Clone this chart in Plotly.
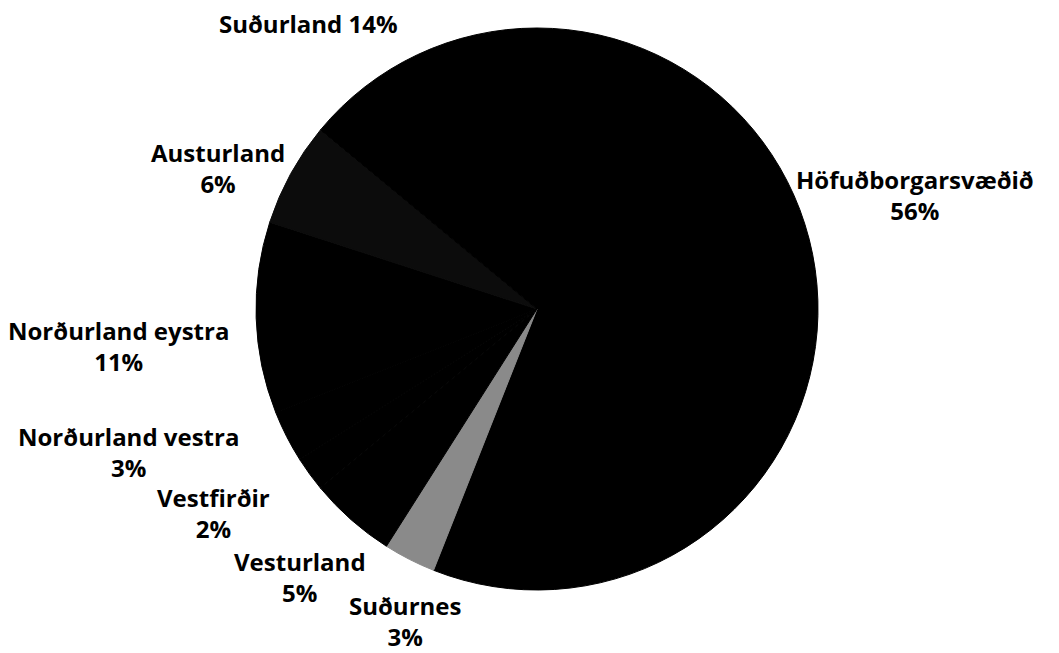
import plotly.graph_objects as go

regions = ["Höfuðborgarsvæðið", "Suðurnes", "Vesturland", "Vestfirðir",
           "Norðurland vestra", "Norðurland eystra", "Austurland", "Suðurland"]
shares = [56, 3, 5, 2, 3, 11, 6, 14]
slice_colors = ["#000000", "#8a8a8a", "#000000", "#000000",
                "#000000", "#000000", "#0c0c0c", "#000000"]

# label anchor positions in page pixels (x, y from top) and whether single-line
label_pos = [(915, 195, False), (405, 621, False), (300, 577, False), (213, 513, False),
             (128, 452, False), (118, 346, False), (218, 168, False), (308, 23, True)]

W, H = 1059, 653
OFF = 8  # page body margin
cx, cy, r = 537 - OFF, 309 - OFF, 281

fig = go.Figure(go.Pie(
    labels=regions, values=shares, sort=False, direction="clockwise", rotation=0,
    marker=dict(colors=slice_colors, line=dict(width=1, color=slice_colors)),
    textinfo="none", hoverinfo="label+percent", showlegend=False,
    domain=dict(x=[(cx - r) / W, (cx + r) / W], y=[1 - (cy + r) / H, 1 - (cy - r) / H]),
))

for name, val, (px, py, single) in zip(regions, shares, label_pos):
    txt = f"{name} {val}%" if single else f"{name}<br>{val}%"
    fig.add_annotation(x=(px - OFF) / W, y=1 - (py - OFF) / H, xref="paper", yref="paper",
                       text=txt, showarrow=False, xanchor="center", yanchor="middle",
                       borderpad=0,
                       font=dict(family="Open Sans", size=24, color="#000000", weight=700),
                       align="center")

fig.update_layout(width=W, height=H, margin=dict(l=0, r=0, t=0, b=0),
                  paper_bgcolor="white", plot_bgcolor="white")
fig.write_html("out.html")
